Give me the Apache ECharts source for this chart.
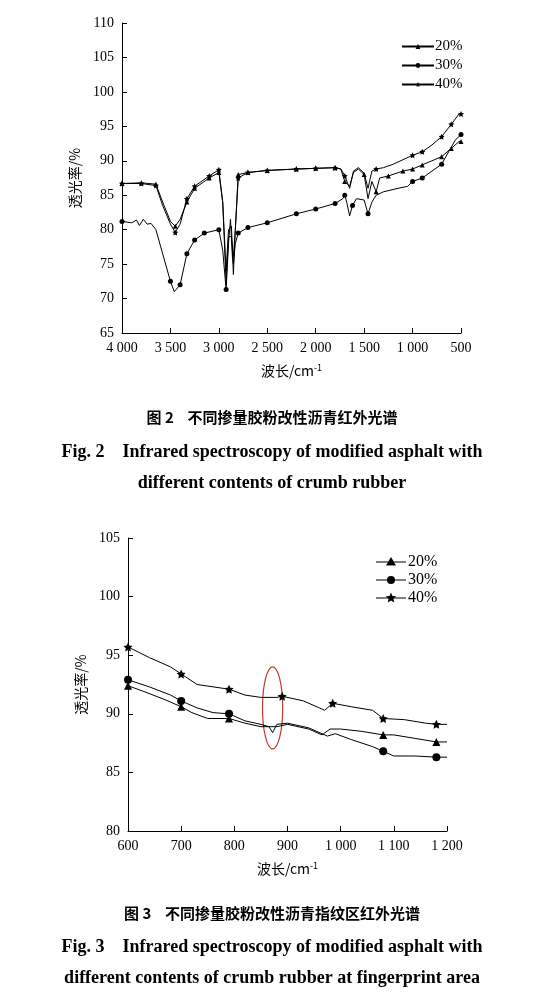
<!DOCTYPE html>
<html><head><meta charset="utf-8">
<script src="https://cdn.jsdelivr.net/npm/echarts@6/dist/echarts.min.js"></script>
<style>html,body{margin:0;background:#fff}#c{width:544px;height:1002px}</style>
</head><body><div id="c"></div>
<script>
const seriesNames = ['20%','30%','40%'];
const symbols = ['triangle','circle','path://M0,-10L2.9,-4L9.5,-3.1L4.7,1.5L5.9,8.1L0,5L-5.9,8.1L-4.7,1.5L-9.5,-3.1L-2.9,-4Z'];
// Fig.2 full spectrum [wavenumber, transmittance]
const top20 = [[4000,86.7],[3800,86.8],[3650,86.6],[3580,84],[3500,81.2],[3450,80.5],[3400,81.5],[3330,84],[3250,86],[3100,87.5],[3000,88.3],[2960,84],[2925,74],[2900,80],[2870,80.5],[2850,73.5],[2830,80],[2800,88],[2700,88.3],[2500,88.6],[2200,88.8],[2000,88.9],[1800,89],[1740,88.8],[1700,87],[1650,86.3],[1610,88.3],[1560,88.8],[1500,88],[1460,84.5],[1420,87],[1376,85.5],[1340,87.5],[1250,87.8],[1100,88.5],[1000,88.8],[900,89.4],[800,90],[700,90.6],[600,91.8],[520,92.8],[500,92.8]];
const top30 = [[4000,81.2],[3900,81],[3850,81.4],[3820,80.6],[3780,81.5],[3740,80.8],[3700,80.9],[3650,80],[3600,77.5],[3500,72.5],[3460,71],[3400,72],[3330,76.5],[3250,78.5],[3150,79.5],[3000,80],[2960,77],[2925,71.3],[2900,78],[2880,81.5],[2860,76],[2850,75],[2830,78],[2800,79.5],[2700,80.3],[2500,81],[2200,82.3],[2000,83],[1800,83.8],[1720,84.5],[1700,85],[1680,84],[1650,82],[1620,83.5],[1580,84.5],[1500,84.3],[1460,82.3],[1420,84],[1376,85],[1300,85.5],[1150,86],[1050,86.3],[1000,87],[900,87.5],[800,88.5],[700,89.5],[620,91.5],[560,93],[500,93.8]];
const top40 = [[4000,86.7],[3800,86.7],[3650,86.4],[3580,83.5],[3500,80.8],[3450,79.6],[3400,80.8],[3330,84.5],[3250,86.3],[3100,87.8],[3000,88.7],[2960,84],[2925,72],[2900,79],[2870,79],[2850,76],[2830,80],[2800,87.5],[2700,88.3],[2500,88.6],[2200,88.8],[2000,88.9],[1800,89],[1740,88.8],[1700,87.8],[1650,86],[1610,88.5],[1560,89],[1500,88.2],[1460,86],[1420,88.5],[1376,88.8],[1300,89],[1200,89.5],[1000,90.8],[900,91.3],[800,92.3],[700,93.5],[600,95.3],[520,96.8],[500,96.8]];
const topMarks = [[4000,3800,3650,3450,3330,3250,3100,3000,2800,2700,2500,2200,2000,1800,1700,1500,1376,1250,1100,1000,900,700,600,500],
  [4000,3500,3400,3330,3250,3150,3000,2925,2800,2700,2500,2200,2000,1800,1700,1620,1460,1250,1000,900,700,600,500],
  [4000,3800,3650,3450,3330,3250,3100,3000,2800,2700,2500,2200,2000,1800,1700,1376,1250,1000,900,700,600,500]];
// Fig.3 fingerprint area
const bot20 = [[600,92.4],[630,91.9],[670,91.2],[700,90.6],[720,90.1],[750,89.6],[790,89.6],[820,89.2],[850,88.9],[880,88.9],[900,89.1],[940,88.7],[965,88.2],[980,88.7],[1000,88.7],[1040,88.5],[1080,88.2],[1100,88.2],[1140,87.9],[1180,87.6],[1200,87.6]];
const bot30 = [[600,92.9],[640,92.3],[680,91.6],[700,91.1],[730,90.5],[760,90.1],[790,90.0],[820,89.4],[850,89.1],[865,88.9],[872,88.4],[880,89.1],[900,89.2],[940,88.8],[965,88.3],[975,88.1],[990,88.3],[1020,87.8],[1060,87.2],[1080,86.8],[1100,86.4],[1140,86.4],[1180,86.3],[1200,86.3]];
const bot40 = [[600,95.7],[640,94.8],[680,94.0],[700,93.4],[730,92.5],[760,92.3],[790,92.1],[820,91.6],[850,91.4],[880,91.4],[890,91.5],[930,91.1],[960,90.5],[970,90.3],[985,90.9],[1020,90.6],[1060,90.3],[1080,89.6],[1120,89.5],[1160,89.2],[1180,89.1],[1200,89.1]];
const botMarks = [[600,700,790,890,985,1080,1180],[600,700,790,890,985,1080,1180],[600,700,790,890,985,1080,1180]];

function fmt(v){ return v>=1000 ? Math.floor(v/1000)+' '+String(v%1000).padStart(3,'0') : String(v); }
function mk(data, marks){ return data.map(p => marks.includes(p[0]) ? {value:p} : {value:p, symbol:'none'}); }
const txt = {fontFamily:'Liberation Serif', color:'#000', fontSize:14};
const axisBase = {axisLine:{lineStyle:{color:'#000'}}, axisTick:{inside:true,lineStyle:{color:'#000'}}, splitLine:{show:false}, axisLabel:Object.assign({},txt)};
const nameStyle = Object.assign({},txt,{fontFamily:'Noto Sans CJK SC',fontSize:14,rich:{s:{fontSize:9,verticalAlign:'top',padding:[0,0,6,0],fontFamily:'Noto Sans CJK SC'}}});
const chart = echarts.init(document.getElementById('c'));
const sz = [6,6,7];
function mkSeries(arrs, marks, idx){
  return arrs.map((d,i)=>({name:seriesNames[i], type:'line', xAxisIndex:idx, yAxisIndex:idx, symbol:symbols[i], symbolSize: idx? sz[i]+2 : sz[i]-1, showAllSymbol:true,
    lineStyle:{color:'#000',width:1}, itemStyle:{color:'#000'}, data:mk(d, marks[i]), animation:false}));
}
chart.setOption({
  animation:false,
  grid:[{left:122,right:83,top:23,height:310},{left:128,right:97,top:538,height:293}],
  xAxis:[
    Object.assign({},axisBase,{type:'value',gridIndex:0,inverse:true,min:500,max:4000,interval:500,axisLabel:Object.assign({},txt,{formatter:fmt,margin:8}),
      name:'波长/cm{s|-1}',nameLocation:'middle',nameGap:30,nameTextStyle:nameStyle}),
    Object.assign({},axisBase,{type:'value',gridIndex:1,min:600,max:1200,interval:100,axisLabel:Object.assign({},txt,{formatter:fmt}),
      name:'波长/cm{s|-1}',nameLocation:'middle',nameGap:30,nameTextStyle:nameStyle})
  ],
  yAxis:[
    Object.assign({},axisBase,{type:'value',gridIndex:0,min:65,max:110,interval:5,name:'透光率/%',nameLocation:'middle',nameGap:40,nameTextStyle:nameStyle}),
    Object.assign({},axisBase,{type:'value',gridIndex:1,min:80,max:105,interval:5,name:'透光率/%',nameLocation:'middle',nameGap:40,nameTextStyle:nameStyle})
  ],
  legend:{data:seriesNames,left:396,top:34,orient:'vertical',itemWidth:32,itemHeight:6,itemGap:4,textStyle:Object.assign({},txt,{fontSize:15,padding:[0,0,0,-4]}),selectedMode:false},
  series:[...mkSeries([top20,top30,top40],topMarks,0), ...mkSeries([bot20,bot30,bot40],botMarks,1)]
});
const c = chart.convertToPixel({xAxisIndex:1,yAxisIndex:1},[872,90.5]);
const e = chart.convertToPixel({xAxisIndex:1,yAxisIndex:1},[891,94]);
function star(cx,cy,R){const pts=[];for(let k=0;k<10;k++){const r=k%2?R*0.45:R;const a=-Math.PI/2+k*Math.PI/5;pts.push([cx+r*Math.cos(a),cy+r*Math.sin(a)]);}return pts;}
const legendItems = [];
seriesNames.forEach((n,i)=>{
  const y = 562 + i*18;
  legendItems.push({type:'line',shape:{x1:376,y1:y,x2:406,y2:y},style:{stroke:'#000',lineWidth:1}});
  if(i===0) legendItems.push({type:'polygon',shape:{points:[[391,y-5],[396,y+3.5],[386,y+3.5]]},style:{fill:'#000'}});
  else if(i===1) legendItems.push({type:'circle',shape:{cx:391,cy:y,r:4},style:{fill:'#000'}});
  else legendItems.push({type:'polygon',shape:{points:star(391,y,5.5)},style:{fill:'#000'}});
  legendItems.push({type:'text',x:408,y:y-8,style:{text:n,font:'16px "Liberation Serif"',fill:'#000'}});
});
chart.setOption({graphic:[
  {type:'ellipse',shape:{cx:c[0],cy:c[1],rx:e[0]-c[0],ry:c[1]-e[1]},style:{fill:'none',stroke:'#c0392b',lineWidth:1.2}},
  ...legendItems,
  {type:'text',left:'center',top:410,style:{text:'图 2    不同掺量胶粉改性沥青红外光谱',font:'bold 15px "Noto Sans CJK SC"',fill:'#000'}},
  {type:'text',left:'center',top:443,style:{text:'Fig. 2    Infrared spectroscopy of modified asphalt with',font:'bold 18px "Liberation Serif"',fill:'#000'}},
  {type:'text',left:'center',top:474,style:{text:'different contents of crumb rubber',font:'bold 18px "Liberation Serif"',fill:'#000'}},
  {type:'text',left:'center',top:906,style:{text:'图 3    不同掺量胶粉改性沥青指纹区红外光谱',font:'bold 15px "Noto Sans CJK SC"',fill:'#000'}},
  {type:'text',left:'center',top:938,style:{text:'Fig. 3    Infrared spectroscopy of modified asphalt with',font:'bold 18px "Liberation Serif"',fill:'#000'}},
  {type:'text',left:'center',top:969,style:{text:'different contents of crumb rubber at fingerprint area',font:'bold 18px "Liberation Serif"',fill:'#000'}}
]});
</script></body></html>
